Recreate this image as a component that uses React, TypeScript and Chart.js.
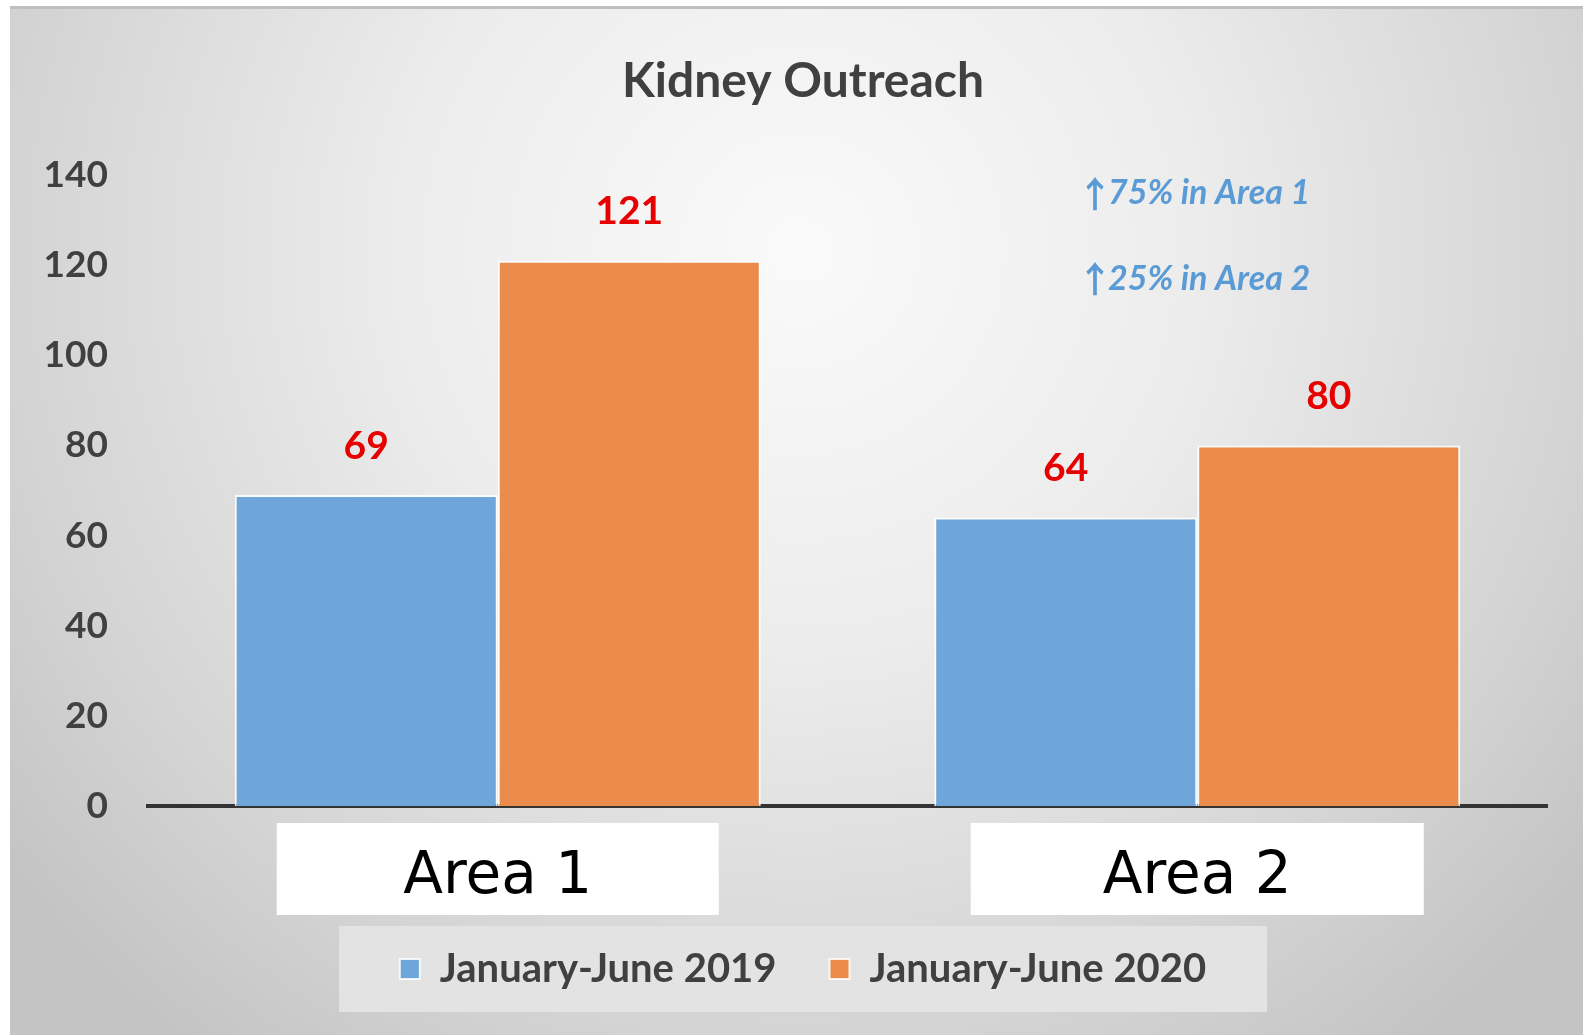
import React, { useEffect, useRef } from "react";
import { Chart, registerables } from "chart.js";

Chart.register(...registerables);

const chartTitle = "Kidney Outreach";
const categories = ["Area 1", "Area 2"];
const seriesNames = ["January-June 2019", "January-June 2020"];
const values2019 = [69, 64];
const values2020 = [121, 80];
const yTicks = [0, 20, 40, 60, 80, 100, 120, 140];
const notes = ["75% in Area 1", "25% in Area 2"];

const W = 1583;
const H = 1035;
const LEGEND_PAD = 53;
const LEGEND_FONT = 40;

const bgPlugin = {
  id: "bgPlugin",
  beforeDraw(chart: any) {
    const { ctx, width, height } = chart;
    ctx.save();
    ctx.fillStyle = "#ffffff";
    ctx.fillRect(0, 0, width, height);
    const g = ctx.createRadialGradient(800, 250, 0, 800, 250, 1000);
    g.addColorStop(0, "#fafafa");
    g.addColorStop(0.4, "#ececec");
    g.addColorStop(0.8, "#d3d3d3");
    g.addColorStop(1, "#c4c4c4");
    ctx.fillStyle = g;
    ctx.fillRect(10, 7, width - 10, height - 7);
    ctx.fillStyle = "#bfbfbf";
    ctx.fillRect(10, 6, width - 10, 3);

    // white boxes behind category labels
    const xs = chart.scales.x;
    const boxW = [442, 453];
    ctx.fillStyle = "#ffffff";
    categories.forEach((_, i) => {
      const px = xs.getPixelForTick(i);
      ctx.fillRect(px - boxW[i] / 2, xs.top + 17, boxW[i], 92);
    });

    // legend panel
    const lg = chart.legend;
    if (lg) {
      const cx = (lg.left + lg.right) / 2;
      const cy = lg.top + LEGEND_PAD + LEGEND_FONT / 2;
      ctx.fillStyle = "#e3e3e3";
      ctx.fillRect(cx - 464, cy - 43, 928, 86);
    }
    ctx.restore();
  },
  afterDatasetsDraw(chart: any) {
    const { ctx } = chart;
    ctx.save();
    ctx.font = "bold 39px Lato";
    ctx.fillStyle = "#e60000";
    ctx.textAlign = "center";
    ctx.textBaseline = "middle";
    chart.data.datasets.forEach((ds: any, di: number) => {
      const meta = chart.getDatasetMeta(di);
      meta.data.forEach((bar: any, i: number) => {
        ctx.fillText(String(ds.data[i]), bar.x, bar.y - 49);
      });
    });

    const ys = chart.scales.y;
    const noteLevels = [136, 117];
    ctx.fillStyle = "#5b9bd5";
    ctx.textAlign = "left";
    notes.forEach((t, i) => {
      const y = ys.getPixelForValue(noteLevels[i]);
      const x0 = chart.chartArea.right - 470;
      ctx.font = 'bold 36px "Noto Sans CJK JP"';
      ctx.fillText("\u2191", x0, y + 1);
      ctx.font = "italic bold 34px Lato";
      ctx.fillText(t, x0 + 31, y);
    });
    ctx.restore();
  },
};

export default function App() {
  const ref = useRef<HTMLCanvasElement | null>(null);

  useEffect(() => {
    if (!ref.current) return;
    const chart = new Chart(ref.current, {
      type: "bar",
      data: {
        labels: categories,
        datasets: [
          {
            label: seriesNames[0],
            data: values2019,
            backgroundColor: "#6fa6da",
            borderColor: "rgba(255,255,255,0.85)",
            borderWidth: 2,
            categoryPercentage: 0.752,
            barPercentage: 1,
          },
          {
            label: seriesNames[1],
            data: values2020,
            backgroundColor: "#eb8c4c",
            borderColor: "rgba(255,255,255,0.85)",
            borderWidth: 2,
            categoryPercentage: 0.752,
            barPercentage: 1,
          },
        ],
      },
      options: {
        responsive: false,
        animation: false,
        devicePixelRatio: 1,
        layout: { padding: { left: 23, right: 0, top: 0, bottom: 36 } },
        plugins: {
          title: {
            display: true,
            text: chartTitle,
            color: "#404040",
            font: { family: "Lato", size: 48, weight: "bold", lineHeight: 1.2 },
            padding: { top: 53, bottom: 64.4 },
          },
          legend: {
            position: "bottom",
            labels: {
              boxWidth: 20,
              boxHeight: 20,
              padding: LEGEND_PAD,
              color: "#404040",
              font: { family: "Lato", size: LEGEND_FONT, weight: "bold" },
            },
          },
          tooltip: { enabled: false },
        },
        scales: {
          x: {
            grid: { display: false, drawTicks: false },
            border: { display: true, color: "#333333", width: 4 },
            afterFit: (s: any) => {
              s.height = 90;
            },
            ticks: {
              color: "#000000",
              font: { family: "DejaVu Sans", size: 58, lineHeight: 1.2 },
              padding: 37,
            },
          },
          y: {
            min: 0,
            max: 140,
            grid: { display: false, drawTicks: false },
            border: { display: false },
            afterBuildTicks: (s: any) => {
              s.ticks = yTicks.map((v) => ({ value: v }));
            },
            afterFit: (s: any) => {
              s.width = 125;
            },
            ticks: {
              color: "#404040",
              font: { family: "Lato", size: 37, weight: "bold" },
              padding: 40,
            },
          },
          yR: {
            position: "right",
            display: true,
            grid: { display: false, drawTicks: false },
            border: { display: false },
            ticks: { display: false },
            afterFit: (s: any) => {
              s.width = 36;
            },
          },
        },
      } as any,
      plugins: [bgPlugin],
    });
    return () => chart.destroy();
  }, []);

  return (
    <div style={{ position: "absolute", left: 0, top: 0, width: W, height: H }}>
      <canvas ref={ref} width={W} height={H} style={{ display: "block", width: W, height: H }} />
    </div>
  );
}
